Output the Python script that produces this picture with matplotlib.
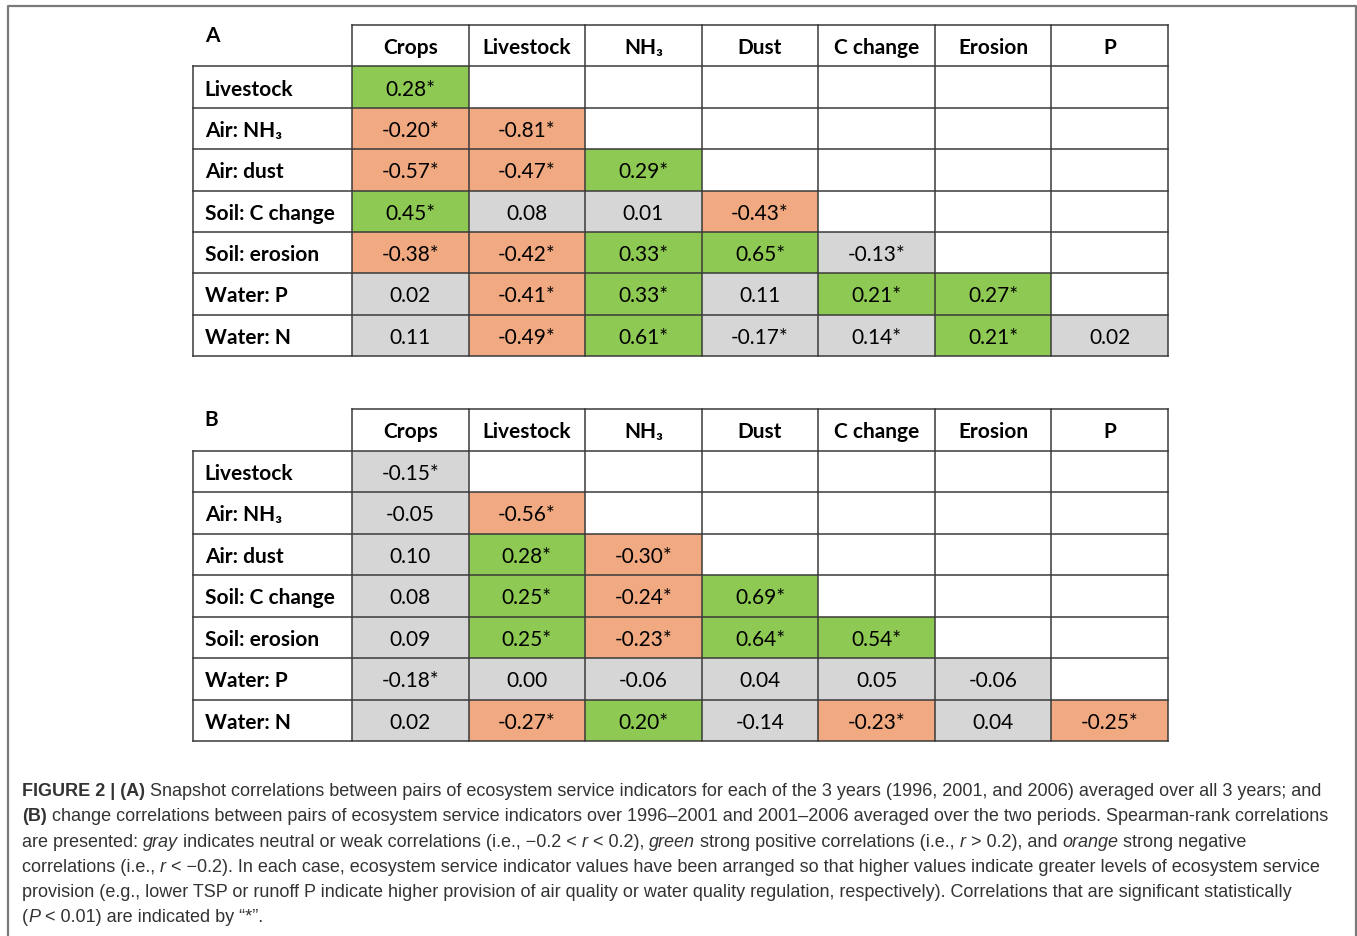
import matplotlib
matplotlib.use("Agg")
import matplotlib.pyplot as plt
from matplotlib.patches import Rectangle

plt.rcParams["font.family"] = ["Lato", "DejaVu Sans"]

row_labels = ["Livestock", "Air: NH₃", "Air: dust", "Soil: C change",
              "Soil: erosion", "Water: P", "Water: N"]
col_labels = ["Crops", "Livestock", "NH₃", "Dust", "C change", "Erosion", "P"]

# (A) snapshot correlations, lower triangle, "*" = significant
snapshot_r = [
    ["0.28*"],
    ["-0.20*", "-0.81*"],
    ["-0.57*", "-0.47*", "0.29*"],
    ["0.45*", "0.08", "0.01", "-0.43*"],
    ["-0.38*", "-0.42*", "0.33*", "0.65*", "-0.13*"],
    ["0.02", "-0.41*", "0.33*", "0.11", "0.21*", "0.27*"],
    ["0.11", "-0.49*", "0.61*", "-0.17*", "0.14*", "0.21*", "0.02"],
]

# (B) change correlations
change_r = [
    ["-0.15*"],
    ["-0.05", "-0.56*"],
    ["0.10", "0.28*", "-0.30*"],
    ["0.08", "0.25*", "-0.24*", "0.69*"],
    ["0.09", "0.25*", "-0.23*", "0.64*", "0.54*"],
    ["-0.18*", "0.00", "-0.06", "0.04", "0.05", "-0.06"],
    ["0.02", "-0.27*", "0.20*", "-0.14", "-0.23*", "0.04", "-0.25*"],
]

caption = [
    [("FIGURE 2 | (A)", "b"), (" Snapshot correlations between pairs of ecosystem service indicators for each of the 3 years (1996, 2001, and 2006) averaged over all 3 years; and", "n")],
    [("(B)", "b"), (" change correlations between pairs of ecosystem service indicators over 1996–2001 and 2001–2006 averaged over the two periods. Spearman-rank correlations", "n")],
    [("are presented: ", "n"), ("gray", "i"), (" indicates neutral or weak correlations (i.e., −0.2 < ", "n"), ("r", "i"),
     (" < 0.2), ", "n"), ("green", "i"), (" strong positive correlations (i.e., ", "n"), ("r", "i"),
     (" > 0.2), and ", "n"), ("orange", "i"), (" strong negative", "n")],
    [("correlations (i.e., ", "n"), ("r", "i"), (" < −0.2). In each case, ecosystem service indicator values have been arranged so that higher values indicate greater levels of ecosystem service", "n")],
    [("provision (e.g., lower TSP or runoff P indicate higher provision of air quality or water quality regulation, respectively). Correlations that are significant statistically", "n")],
    [("(", "n"), ("P", "i"), (" < 0.01) are indicated by “*”.", "n")],
]

GREEN = "#8DC953"
ORANGE = "#F1A982"
GRAY = "#D6D6D6"
LINE = "#3a3a3a"
FS = 15

W, H = 1357, 937
fig = plt.figure(figsize=(W / 100, H / 100), dpi=100)
renderer = fig.canvas.get_renderer()


def cell_color(s):
    r = float(s.rstrip("*"))
    if r >= 0.2:
        return GREEN
    if r <= -0.2:
        return ORANGE
    return GRAY


def draw_table(left, top, width, height, letter, values):
    ax = fig.add_axes([left / W, 1 - (top + height) / H, width / W, height / H])
    w0 = 159 / ((width - 159) / 7)
    ax.set_xlim(-w0, 7)
    ax.set_ylim(7, -1)
    ax.axis("off")
    off = 0.18
    for i, row in enumerate(values):
        for j, s in enumerate(row):
            ax.add_patch(Rectangle((j, i), 1, 1, facecolor=cell_color(s), edgecolor="none"))
            ax.text(j + 0.5, i + 0.5 + off, s, ha="center", va="baseline", fontsize=FS)
    for j, c in enumerate(col_labels):
        ax.text(j + 0.5, -0.5 + off, c, ha="center", va="baseline", fontsize=FS, fontweight="bold")
    for i, r in enumerate(row_labels):
        ax.text(-w0 + 0.1, i + 0.5 + off, r, ha="left", va="baseline", fontsize=FS, fontweight="bold")
    ax.text(-w0 + 0.1, -0.8 + off, letter, ha="left", va="baseline", fontsize=FS, fontweight="bold")

    lc = dict(color=LINE, lw=1.1, clip_on=False, solid_capstyle="projecting")
    ax.plot([0, 7], [-1, -1], **lc)
    for i in range(8):
        ax.plot([-w0, 7], [i, i], **lc)
    ax.plot([-w0, -w0], [0, 7], **lc)
    for j in range(8):
        ax.plot([j, j], [-1, 7], **lc)


draw_table(193, 26, 975, 331, "A", snapshot_r)
draw_table(193, 410, 975, 332, "B", change_r)

# outer frame
frame = fig.add_axes([0, 0, 1, 1], zorder=-1)
frame.set_xlim(0, W)
frame.set_ylim(H, 0)
frame.axis("off")
frame.plot([7.5, 7.5, 1355.5, 1355.5], [H + 5, 6.5, 6.5, H + 5], color="#7a7a7a", lw=1.6)

# caption
cap_font = ["Liberation Sans", "DejaVu Sans"]
styles = {"b": dict(fontweight="bold"), "n": dict(), "i": dict(fontstyle="italic")}


def text_width(s, size, st):
    t = fig.text(0, 0, s, fontsize=size, family=cap_font, **styles[st])
    w = t.get_window_extent(renderer).width
    t.remove()
    return w


def seg_widths(parts, size):
    sp = text_width("a a", size, "n") - text_width("aa", size, "n")
    total = 0
    for s, st in parts:
        core = s.strip()
        lead = len(s) - len(s.lstrip())
        trail = len(s) - len(s.rstrip())
        total += (lead + trail) * sp + text_width(core, size, st)
    return total, sp


base = 12
w2, _ = seg_widths(caption[1], base)
cap_size = base * (1333 - 22) / w2
_, space = seg_widths([("x", "n")], cap_size)

baselines = [796, 821, 847, 872, 897, 922]
for parts, yb in zip(caption, baselines):
    x = 22
    for s, st in parts:
        core = s.strip()
        lead = len(s) - len(s.lstrip())
        trail = len(s) - len(s.rstrip())
        x += lead * space
        t = fig.text(x / W, 1 - yb / H, core, fontsize=cap_size, family=cap_font,
                     color="#333333", va="baseline", ha="left", **styles[st])
        x += t.get_window_extent(renderer).width + trail * space

fig.savefig("out.png", dpi=100)
